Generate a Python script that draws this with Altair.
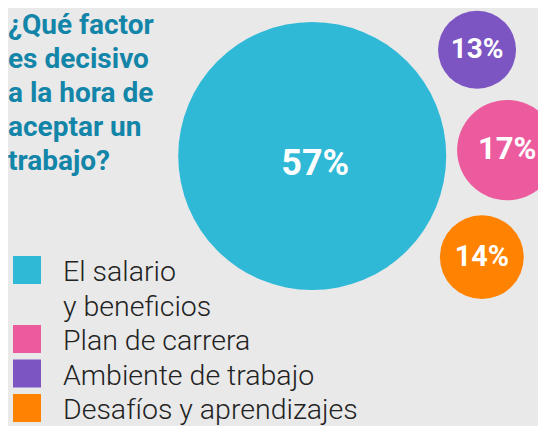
import altair as alt
import pandas as pd

# ---- data ----
categories = ["El salario y beneficios", "Plan de carrera", "Ambiente de trabajo", "Desafíos y aprendizajes"]
legend_labels = ["El salario\ny beneficios", "Plan de carrera", "Ambiente de trabajo", "Desafíos y aprendizajes"]
values = [57, 17, 13, 14]
colors = ["#2fb9d7", "#ed5b9f", "#7c55c3", "#ff8200"]
# bubble placement (percent of the canvas width / height, measured from the top-left)
bubble_x = [57.4, 94.2, 88.5, 89.4]
bubble_y = [35.4, 34.0, 10.0, 59.6]
title_lines = ["¿Qué factor", "es decisivo", "a la hora de", "aceptar un", "trabajo?"]

W, H = 530, 418
BG = "#e9e9e9"

df = pd.DataFrame({
    "cat": categories,
    "value": values,
    "bx": bubble_x,
    "by": bubble_y,
    "label": [f"{v}%" for v in values],
})
n_lines = [s.count("\n") + 1 for s in legend_labels]
rows = [sum(n_lines[:i]) for i in range(len(n_lines))]
leg = pd.DataFrame({"cat": categories, "text": legend_labels, "row": rows})
title_df = pd.DataFrame({"t": ["\n".join(title_lines)]})

color = alt.Color("cat:N", scale=alt.Scale(domain=categories, range=colors), legend=None)
xb = alt.X("bx:Q", scale=alt.Scale(domain=[0, 100]), axis=None)
yb = alt.Y("by:Q", scale=alt.Scale(domain=[0, 100], reverse=True), axis=None)

bubbles = alt.Chart(df).mark_circle(opacity=1).encode(
    x=xb, y=yb, color=color,
    size=alt.Size("value:Q", legend=None,
                  scale=alt.Scale(type="pow", exponent=1.5, zero=False,
                                  domain=[13, 57], range=[78 ** 2, 268 ** 2])),
)

big_labels = alt.Chart(df).transform_filter("datum.value >= 50").mark_text(
    font="Roboto", fontWeight="bold", color="white", baseline="middle",
    fontSize=36, dx=3, dy=8,
).encode(x=xb, y=yb, text="label:N")

small_labels = alt.Chart(df).transform_filter("datum.value < 50").mark_text(
    font="Roboto", fontWeight="bold", color="white", baseline="middle",
).encode(
    x=xb, y=yb, text="label:N",
    size=alt.Size("value:Q", legend=None,
                  scale=alt.Scale(domain=[13, 17], range=[28, 31])),
)

title = alt.Chart(title_df).mark_text(
    align="left", baseline="top", font="Roboto", fontWeight="bold",
    fontSize=28, lineHeight=34, color="#1385a8", lineBreak="\n",
).encode(x=alt.value(0), y=alt.value(4), text="t:N")

yl = alt.Y("row:Q", scale=alt.Scale(domain=[0, 4], range=[262, 400]), axis=None)

leg_sq = alt.Chart(leg).mark_square(size=784, opacity=1).encode(
    x=alt.value(19), y=yl, color=color,
)
leg_txt = alt.Chart(leg).mark_text(
    align="left", baseline="top", font="Roboto", fontWeight=300,
    fontSize=28.5, lineHeight=34.5, color="#222222", lineBreak="\n", dy=-12,
).encode(x=alt.value(55), y=yl, text="text:N")

chart = alt.layer(
    bubbles, big_labels, small_labels, title, leg_sq, leg_txt
).resolve_scale(
    x="independent", y="independent", size="independent"
).properties(
    width=W, height=H, background=BG, padding=0,
    autosize=alt.AutoSizeParams(type="none"),
).configure_view(stroke=None)

chart.save("out.html", embed_options={"renderer": "svg", "actions": False})
